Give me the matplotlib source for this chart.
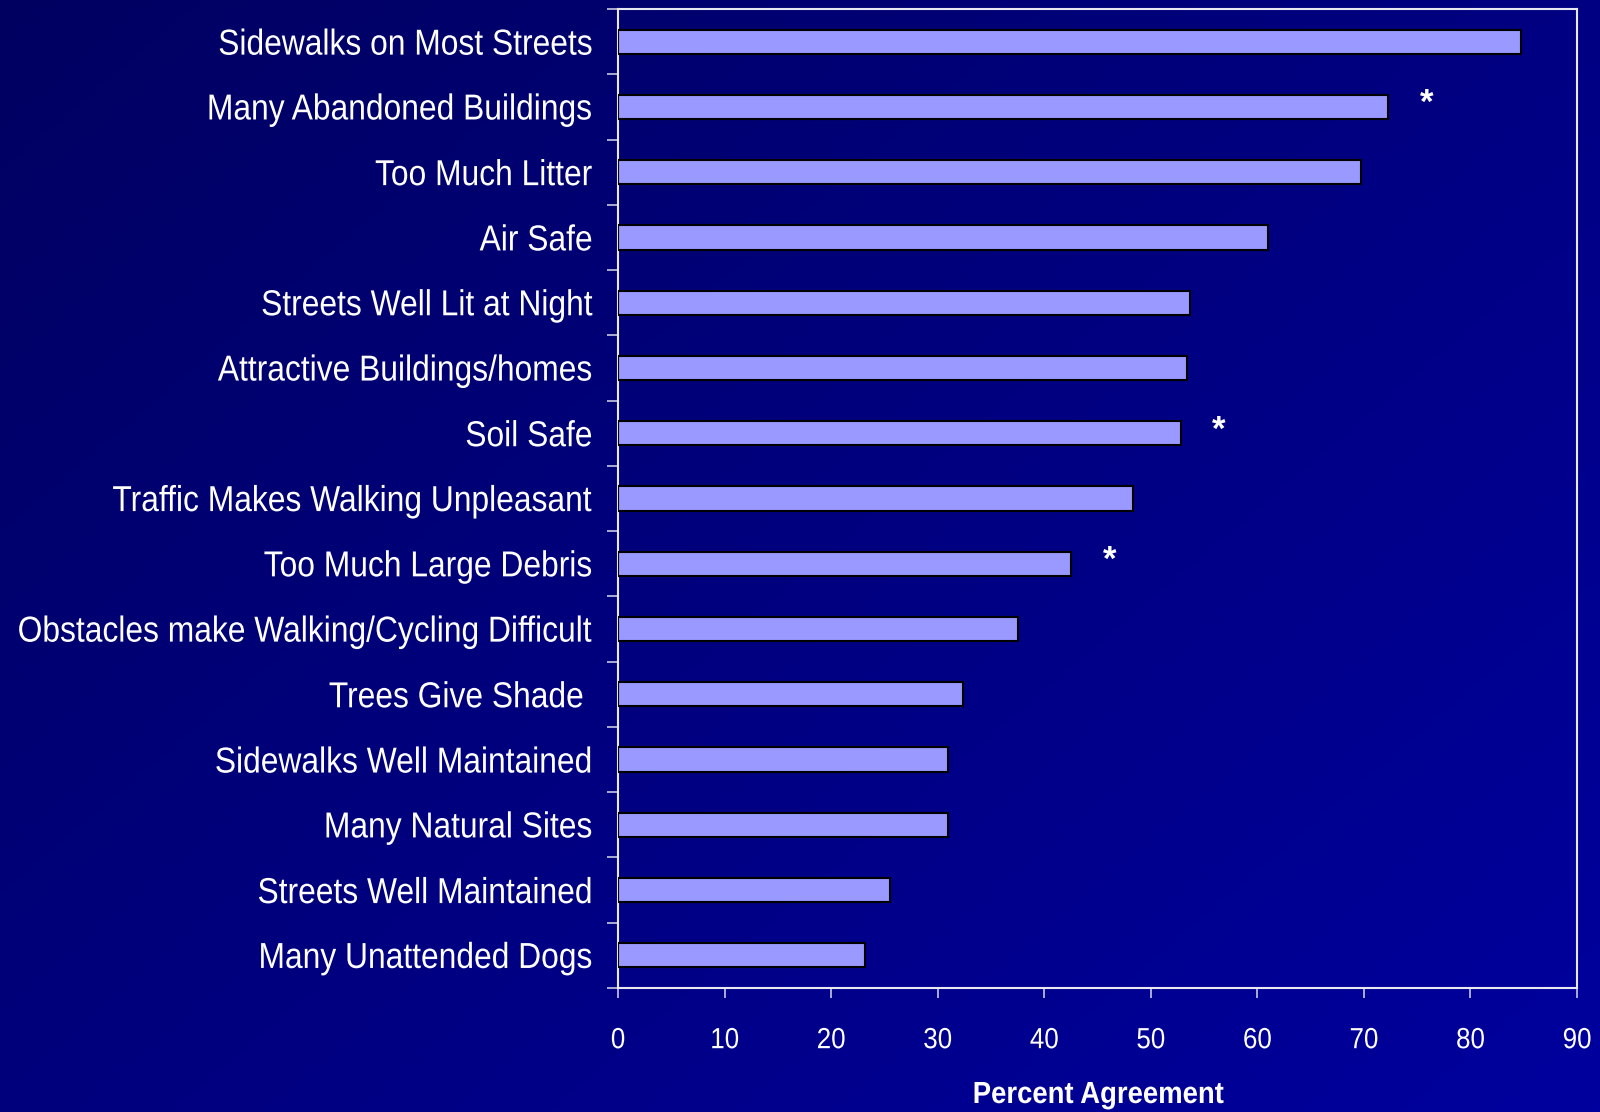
import numpy as np
import matplotlib
matplotlib.use("Agg")
import matplotlib.pyplot as plt
from matplotlib.patheffects import AbstractPathEffect
from matplotlib.transforms import Affine2D

categories = [
    "Sidewalks on Most Streets",
    "Many Abandoned Buildings",
    "Too Much Litter",
    "Air Safe",
    "Streets Well Lit at Night",
    "Attractive Buildings/homes",
    "Soil Safe",
    "Traffic Makes Walking Unpleasant",
    "Too Much Large Debris",
    "Obstacles make Walking/Cycling Difficult",
    "Trees Give Shade ",
    "Sidewalks Well Maintained",
    "Many Natural Sites",
    "Streets Well Maintained",
    "Many Unattended Dogs",
]
values = [84.7, 72.3, 69.7, 61.0, 53.7, 53.4, 52.8, 48.3, 42.5, 37.5, 32.4, 31.0, 31.0, 25.5, 23.2]
significant = [False, True, False, False, False, False, True, False, True, False, False, False, False, False, False]
x_ticks = [0, 10, 20, 30, 40, 50, 60, 70, 80, 90]
x_label = "Percent Agreement"

plt.rcParams['font.family'] = ['Liberation Sans', 'DejaVu Sans']


class ScaleGlyphs(AbstractPathEffect):
    """Scale glyph outlines (x and y separately) about an anchor point."""
    def __init__(self, sx=0.88, sy=1.0, anchor='right'):
        super().__init__()
        self.sx = sx
        self.sy = sy
        self.anchor = anchor

    def draw_path(self, renderer, gc, tpath, affine, rgbFace=None):
        ext = tpath.get_extents()
        ax_ = ext.x1 if self.anchor == 'right' else 0.5 * (ext.x0 + ext.x1)
        ay_ = 0.5 * (ext.y0 + ext.y1)
        pre = Affine2D().translate(-ax_, -ay_).scale(self.sx, self.sy).translate(ax_, ay_)
        renderer.draw_path(gc, tpath, pre + affine, rgbFace)


W, H = 1600, 1112
fig = plt.figure(figsize=(W / 100, H / 100), dpi=100)

# gradient background
bg = fig.add_axes([0, 0, 1, 1], zorder=-10)
yy, xx = np.mgrid[0:1:200j, 0:1:200j]
t = (xx * 0.55 + yy * 0.45)
b = (0.38 + 0.24 * t)
img = np.dstack([np.zeros_like(t), np.zeros_like(t), b])
bg.imshow(img, aspect='auto', extent=[0, 1, 0, 1], origin='upper')
bg.axis('off')

left, right, top, bottom = 618, 1577, 9, 988
ax = fig.add_axes([left / W, 1 - bottom / H, (right - left) / W, (bottom - top) / H])
ax.set_facecolor('none')

n = len(categories)
ypos = np.arange(n)
ax.barh(ypos, values, height=0.37, color='#9999ff', edgecolor='black', linewidth=1.5, zorder=3)
for yi, v, s in zip(ypos, values, significant):
    if s:
        ax.text(v + 3.6, yi - 0.05, "*", color='white', fontsize=25, fontweight='bold',
                ha='center', va='center')

ax.set_ylim(n - 0.5, -0.5)
ax.set_xlim(0, 90)
ax.set_xticks(x_ticks)
ax.set_xticklabels([str(x) for x in x_ticks])
ax.set_yticks(ypos)
ax.set_yticklabels(categories)
ax.set_yticks(np.arange(n + 1) - 0.5, minor=True)

label_fs = 23.0
target_fs = 26.0
k = target_fs / label_fs
ax.tick_params(axis='y', which='major', length=0, pad=18, labelsize=label_fs, labelcolor='white')
ax.tick_params(axis='y', which='minor', length=8, width=1.2, color='#c8c8e0', direction='out')
ax.tick_params(axis='x', which='major', length=7.5, width=1.2, color='#c8c8e0', direction='out',
               pad=20, labelsize=21, labelcolor='white')

for lab in ax.get_yticklabels():
    lab.set_path_effects([ScaleGlyphs(0.88 * k, k, 'right')])
for lab in ax.get_xticklabels():
    lab.set_path_effects([ScaleGlyphs(0.89, 1.0, 'center')])

for sp in ax.spines.values():
    sp.set_color('#e8e8f0')
    sp.set_linewidth(1.5)

xl = fig.text(1098 / W, 1 - 1095 / H, x_label, color='white', fontsize=22, fontweight='bold',
              ha='center', va='center')
xl.set_path_effects([ScaleGlyphs(0.9, 1.0, 'center')])

fig.savefig("out.png", dpi=100)
